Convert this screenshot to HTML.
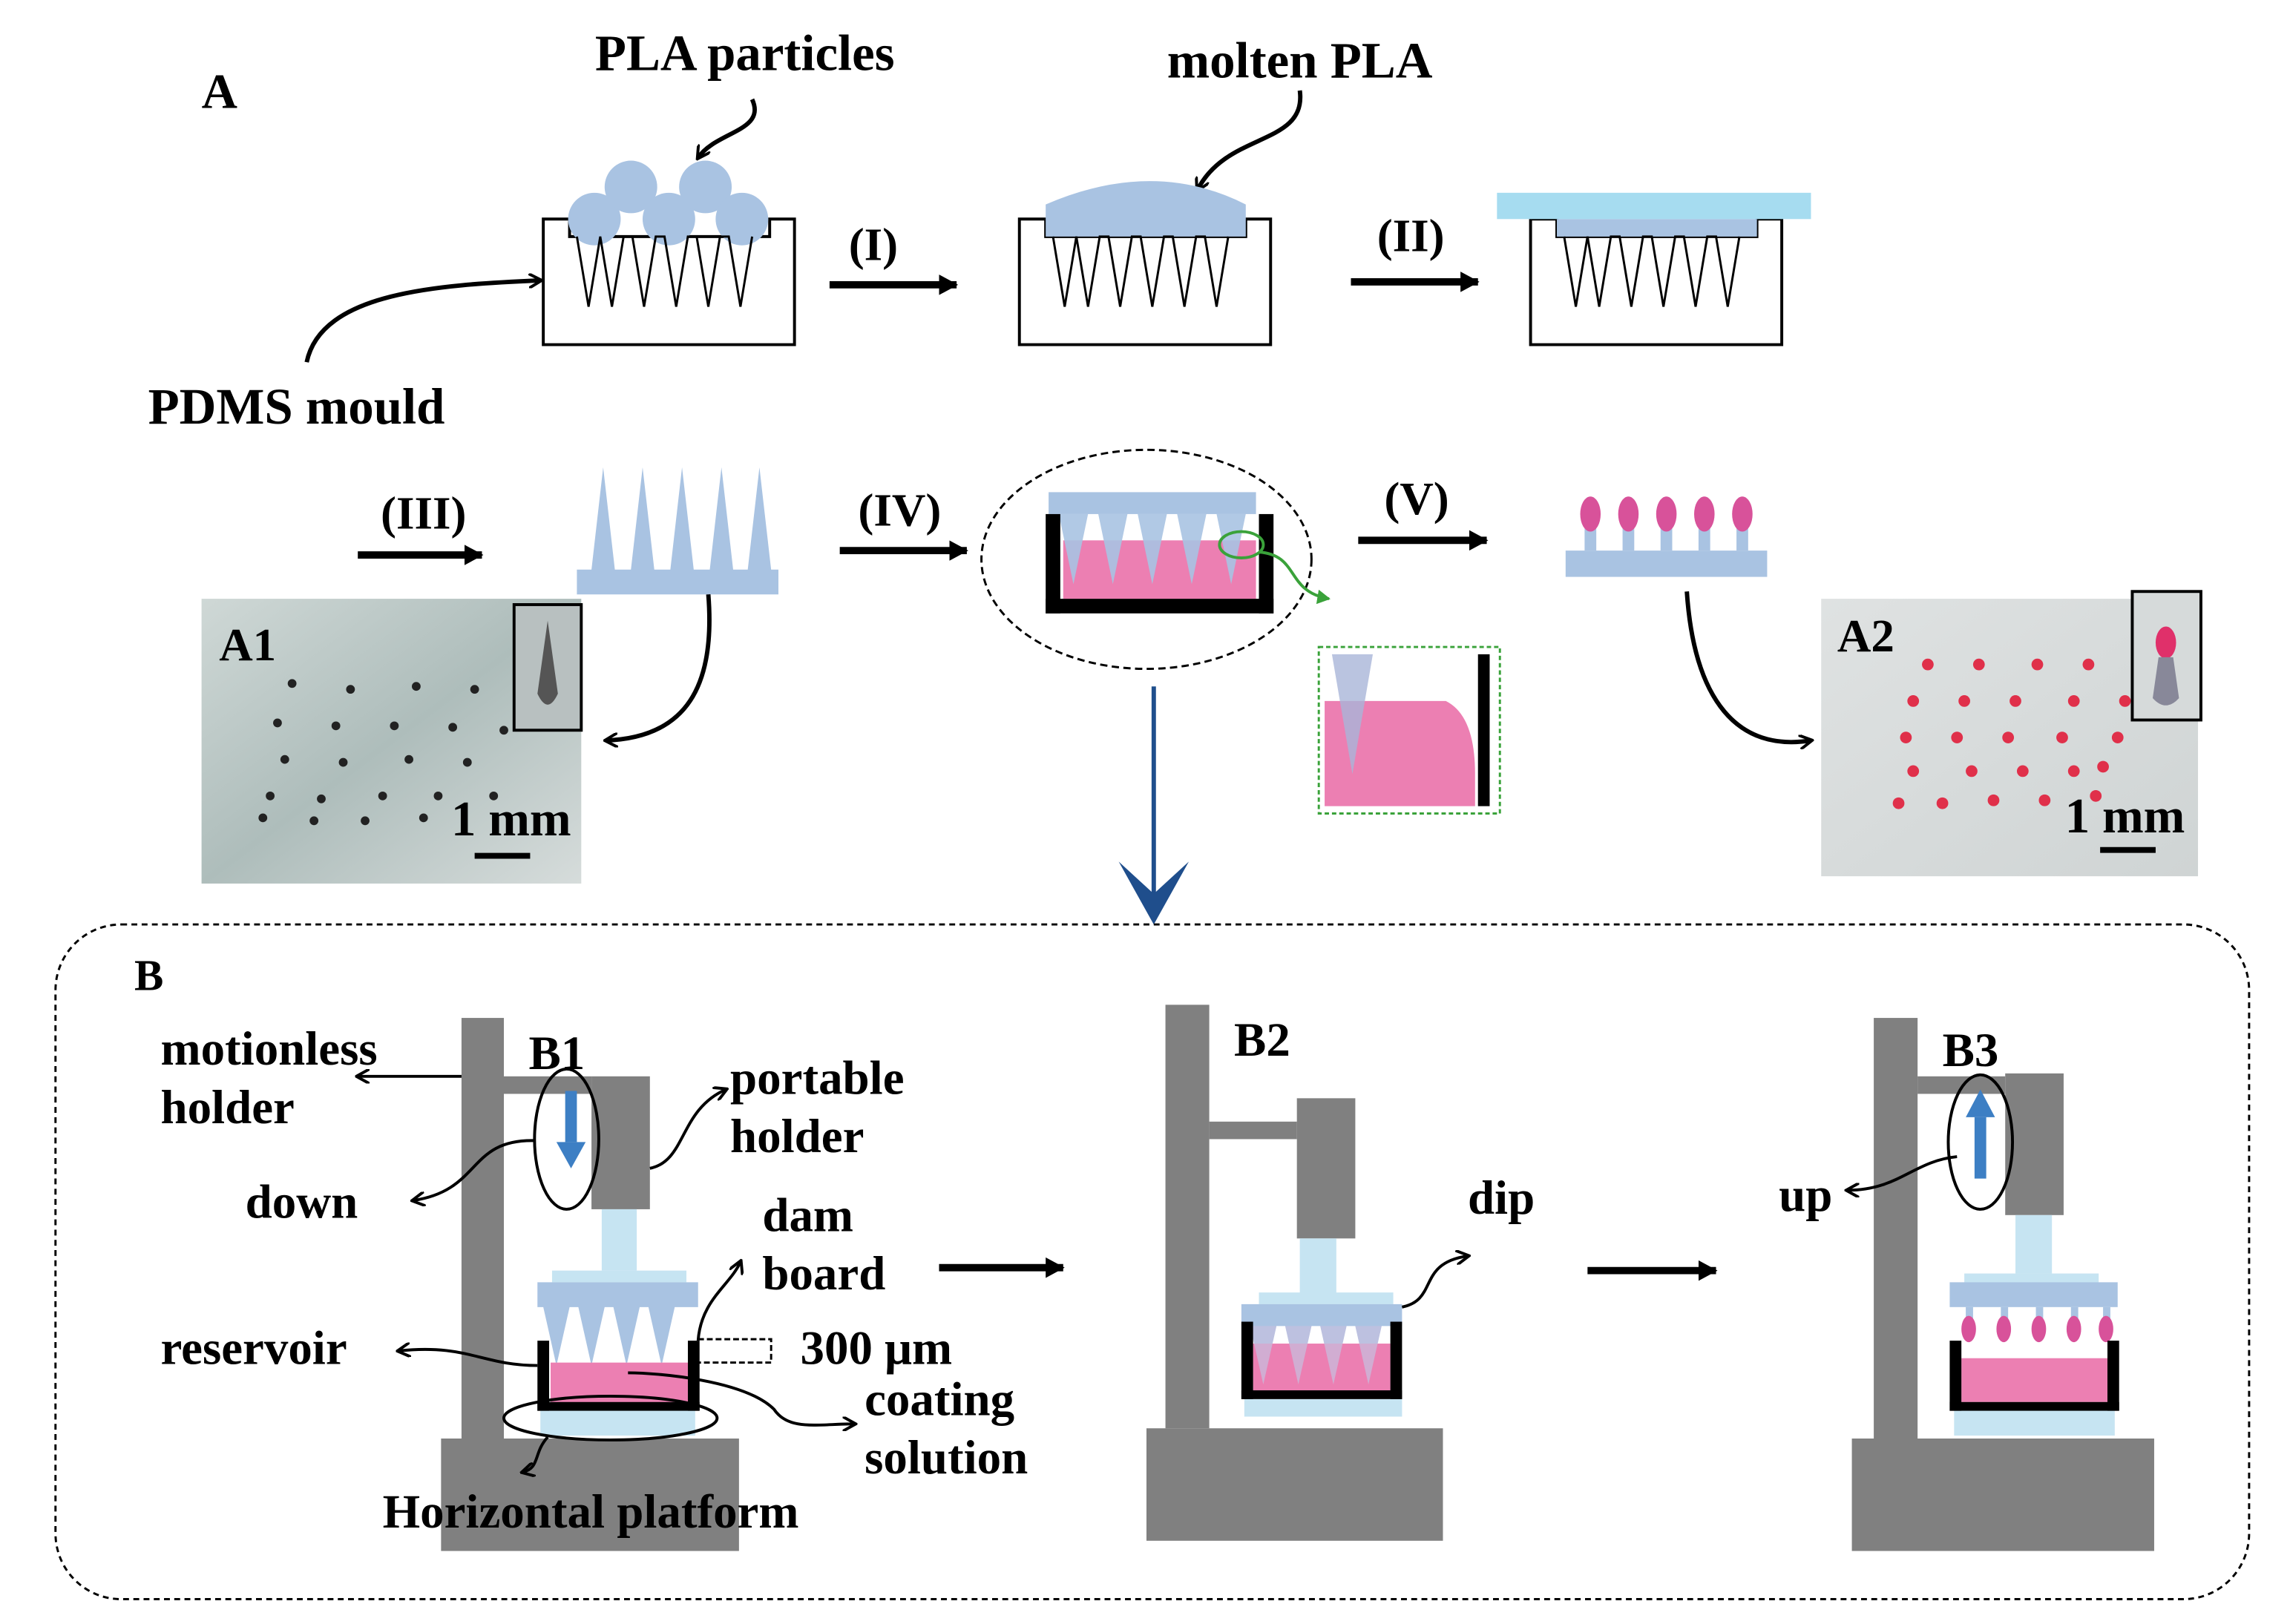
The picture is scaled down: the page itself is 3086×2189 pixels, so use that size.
<!DOCTYPE html>
<html><head><style>html,body{margin:0;padding:0;background:#fff}svg{display:block}</style></head>
<body>
<svg width="3086" height="2189" viewBox="0 0 1568 1112" preserveAspectRatio="none" xmlns="http://www.w3.org/2000/svg" font-family="'Liberation Serif', serif" font-weight="bold">
<defs>
<marker id="ah" markerWidth="10" markerHeight="10" refX="8" refY="5" orient="auto" markerUnits="userSpaceOnUse"><path d="M0,0 L9,5 L0,10" fill="none" stroke="#000" stroke-width="2"/></marker>
<marker id="ahb" markerWidth="14" markerHeight="14" refX="12" refY="7" orient="auto" markerUnits="userSpaceOnUse"><path d="M0,0 L13,7 L0,14 Z" fill="#000"/></marker>
<marker id="ahg" markerWidth="10" markerHeight="10" refX="8" refY="5" orient="auto" markerUnits="userSpaceOnUse"><path d="M0,0 L9,5 L0,10 Z" fill="#3aa23a"/></marker>
<linearGradient id="ph1" x1="0" y1="0" x2="1" y2="1"><stop offset="0" stop-color="#cfd8d6"/><stop offset="0.5" stop-color="#aebdbb"/><stop offset="1" stop-color="#d6dcdb"/></linearGradient>
<linearGradient id="ph2" x1="0" y1="0" x2="1" y2="1"><stop offset="0" stop-color="#dfe2e2"/><stop offset="1" stop-color="#cfd4d4"/></linearGradient>
</defs>
<text x="138" y="74" font-size="34">A</text>
<text x="510" y="48" font-size="35" text-anchor="middle">PLA particles</text>
<text x="890" y="53" font-size="35" text-anchor="middle">molten PLA</text>
<text x="203" y="290" font-size="35" text-anchor="middle">PDMS mould</text>
<path d="M515,68 C525,90 490,90 478,108" fill="none" stroke="#000" stroke-width="3" marker-end="url(#ah)"/>
<path d="M890,62 C895,100 840,90 820,130" fill="none" stroke="#000" stroke-width="3" marker-end="url(#ah)"/>
<path d="M210,248 C220,200 300,195 370,192" fill="none" stroke="#000" stroke-width="3" marker-end="url(#ah)"/>
<g fill="#fff" stroke="#000" stroke-width="2">
<path d="M372,150 L372,236 L544,236 L544,150 L527,150 L527,162 L390,162 L390,150 Z"/>
<path d="M698,150 L698,236 L870,236 L870,150 L853,150 L853,162 L716,162 L716,150 Z"/>
<path d="M1048,150 L1048,236 L1220,236 L1220,150 L1203,150 L1203,162 L1066,162 L1066,150 Z"/>
</g>
<g fill="#a9c3e2"><circle cx="407" cy="150" r="18"/><circle cx="432" cy="128" r="18"/><circle cx="458" cy="150" r="18"/><circle cx="483" cy="128" r="18"/><circle cx="508" cy="150" r="18"/>
<path d="M716,162 L716,140 Q790,108 853,140 L853,162 Z"/>
<rect x="1066" y="150" width="137" height="12"/></g>
<rect x="1025" y="132" width="215" height="18" fill="#a6dcf0"/>
<g fill="none" stroke="#000" stroke-width="1.5">
<path d="M395,162 L403,210 L411,162 L419,210 L427,162 L433,162 L441,210 L449,162 L455,162 L463,210 L471,162 L477,162 L485,210 L493,162 L499,162 L507,210 L515,162"/>
<path d="M721,162 L729,210 L737,162 L745,210 L753,162 L759,162 L767,210 L775,162 L781,162 L789,210 L797,162 L803,162 L811,210 L819,162 L825,162 L833,210 L841,162"/>
<path d="M1071,162 L1079,210 L1087,162 L1095,210 L1103,162 L1109,162 L1117,210 L1125,162 L1131,162 L1139,210 L1147,162 L1153,162 L1161,210 L1169,162 L1175,162 L1183,210 L1191,162"/>
</g>
<g stroke="#000" stroke-width="5" marker-end="url(#ahb)">
<line x1="568" y1="195" x2="655" y2="195"/><line x1="925" y1="193" x2="1012" y2="193"/>
<line x1="245" y1="380" x2="330" y2="380"/><line x1="575" y1="377" x2="662" y2="377"/><line x1="930" y1="370" x2="1018" y2="370"/>
<line x1="643" y1="868" x2="728" y2="868"/><line x1="1087" y1="870" x2="1175" y2="870"/>
</g>
<g font-size="32"><text x="598" y="178" text-anchor="middle">(I)</text><text x="966" y="172" text-anchor="middle">(II)</text>
<text x="290" y="362" text-anchor="middle">(III)</text><text x="616" y="360" text-anchor="middle">(IV)</text><text x="970" y="352" text-anchor="middle">(V)</text></g>
<path d="M395,390 L533,390 L533,407 L395,407 Z M405,390 L413,320 L421,390 Z M432,390 L440,320 L448,390 Z M459,390 L467,320 L475,390 Z M486,390 L494,320 L502,390 Z M512,390 L520,320 L528,390 Z" fill="#a9c3e2"/>
<path d="M485,407 C490,470 470,505 415,507" fill="none" stroke="#000" stroke-width="3" marker-end="url(#ah)"/>
<rect x="138" y="410" width="260" height="195" fill="url(#ph1)"/>
<g fill="#222">
<circle cx="200" cy="468" r="3"/><circle cx="240" cy="472" r="3"/><circle cx="285" cy="470" r="3"/><circle cx="325" cy="472" r="3"/>
<circle cx="190" cy="495" r="3"/><circle cx="230" cy="497" r="3"/><circle cx="270" cy="497" r="3"/><circle cx="310" cy="498" r="3"/><circle cx="345" cy="500" r="3"/>
<circle cx="195" cy="520" r="3"/><circle cx="235" cy="522" r="3"/><circle cx="280" cy="520" r="3"/><circle cx="320" cy="522" r="3"/>
<circle cx="185" cy="545" r="3"/><circle cx="220" cy="547" r="3"/><circle cx="262" cy="545" r="3"/><circle cx="300" cy="545" r="3"/><circle cx="338" cy="545" r="3"/>
<circle cx="180" cy="560" r="3"/><circle cx="215" cy="562" r="3"/><circle cx="250" cy="562" r="3"/><circle cx="290" cy="560" r="3"/></g>
<rect x="352" y="414" width="46" height="86" fill="#b8c0c0" stroke="#000" stroke-width="2"/>
<path d="M375,425 L368,475 Q375,490 382,475 Z" fill="#555"/>
<text x="150" y="452" font-size="32">A1</text>
<text x="350" y="572" font-size="34" text-anchor="middle">1 mm</text>
<rect x="325" y="584" width="38" height="4" fill="#000"/>
<ellipse cx="785" cy="383" rx="113" ry="75" fill="none" stroke="#000" stroke-width="1.5" stroke-dasharray="5,3"/>
<rect x="718" y="337" width="142" height="15" fill="#a9c3e2"/>
<rect x="728" y="370" width="132" height="40" fill="#ec7fb2"/>
<path d="M725,352 L745,352 L735,400 Z M752,352 L772,352 L762,400 Z M779,352 L799,352 L789,400 Z M806,352 L826,352 L816,400 Z M833,352 L853,352 L843,400 Z" fill="#a9c3e2" opacity="0.9"/>
<rect x="716" y="352" width="10" height="68" fill="#000"/><rect x="862" y="352" width="10" height="68" fill="#000"/><rect x="716" y="410" width="156" height="10" fill="#000"/>
<ellipse cx="850" cy="373" rx="15" ry="9" fill="none" stroke="#3aa23a" stroke-width="2"/>
<path d="M862,378 C890,380 880,405 910,410" fill="none" stroke="#3aa23a" stroke-width="2" marker-end="url(#ahg)"/>
<rect x="903" y="443" width="124" height="114" fill="none" stroke="#3aa23a" stroke-width="1.5" stroke-dasharray="3,2"/>
<path d="M907,480 L990,480 Q1010,490 1010,530 L1010,552 L907,552 Z" fill="#ec7fb2"/>
<path d="M912,448 L940,448 L926,530 Z" fill="#a9b5d8" opacity="0.8"/>
<rect x="1012" y="448" width="8" height="104" fill="#000"/>
<rect x="1072" y="377" width="138" height="18" fill="#a9c3e2"/>
<g fill="#a9c3e2"><rect x="1085" y="355" width="8" height="22"/><rect x="1111" y="355" width="8" height="22"/><rect x="1137" y="355" width="8" height="22"/><rect x="1163" y="355" width="8" height="22"/><rect x="1189" y="355" width="8" height="22"/></g>
<g fill="#d8529a"><ellipse cx="1089" cy="352" rx="7" ry="12"/><ellipse cx="1115" cy="352" rx="7" ry="12"/><ellipse cx="1141" cy="352" rx="7" ry="12"/><ellipse cx="1167" cy="352" rx="7" ry="12"/><ellipse cx="1193" cy="352" rx="7" ry="12"/></g>
<path d="M1155,405 C1160,480 1190,515 1240,507" fill="none" stroke="#000" stroke-width="3" marker-end="url(#ah)"/>
<rect x="1247" y="410" width="258" height="190" fill="url(#ph2)"/>
<g fill="#e0304a">
<circle cx="1320" cy="455" r="4"/><circle cx="1355" cy="455" r="4"/><circle cx="1395" cy="455" r="4"/><circle cx="1430" cy="455" r="4"/>
<circle cx="1310" cy="480" r="4"/><circle cx="1345" cy="480" r="4"/><circle cx="1380" cy="480" r="4"/><circle cx="1420" cy="480" r="4"/><circle cx="1455" cy="480" r="4"/>
<circle cx="1305" cy="505" r="4"/><circle cx="1340" cy="505" r="4"/><circle cx="1375" cy="505" r="4"/><circle cx="1412" cy="505" r="4"/><circle cx="1450" cy="505" r="4"/>
<circle cx="1310" cy="528" r="4"/><circle cx="1350" cy="528" r="4"/><circle cx="1385" cy="528" r="4"/><circle cx="1420" cy="528" r="4"/><circle cx="1440" cy="525" r="4"/>
<circle cx="1300" cy="550" r="4"/><circle cx="1330" cy="550" r="4"/><circle cx="1365" cy="548" r="4"/><circle cx="1400" cy="548" r="4"/><circle cx="1435" cy="545" r="4"/></g>
<rect x="1460" y="405" width="47" height="88" fill="#d6dada" stroke="#000" stroke-width="2"/>
<ellipse cx="1483" cy="440" rx="7" ry="11" fill="#e0306a"/><path d="M1478,450 L1474,478 Q1483,488 1492,478 L1488,450 Z" fill="#889"/>
<text x="1258" y="446" font-size="32">A2</text>
<text x="1455" y="570" font-size="34" text-anchor="middle">1 mm</text>
<rect x="1438" y="580" width="38" height="4" fill="#000"/>
<line x1="790" y1="470" x2="790" y2="628" stroke="#1f4e8c" stroke-width="3"/>
<path d="M766,590 L790,633 L814,590 L790,612 Z" fill="#1f4e8c"/>
<rect x="38" y="633" width="1502" height="462" rx="45" fill="none" stroke="#000" stroke-width="1.5" stroke-dasharray="4,3"/>
<text x="92" y="678" font-size="30">B</text>
<g fill="#808080">
<rect x="316" y="697" width="29" height="290"/><rect x="345" y="737" width="60" height="12"/><rect x="405" y="737" width="40" height="91"/><rect x="302" y="985" width="204" height="77"/>
<rect x="798" y="688" width="30" height="290"/><rect x="828" y="768" width="60" height="12"/><rect x="888" y="752" width="40" height="96"/><rect x="785" y="978" width="203" height="77"/>
<rect x="1283" y="697" width="30" height="290"/><rect x="1313" y="737" width="60" height="12"/><rect x="1373" y="735" width="40" height="97"/><rect x="1268" y="985" width="207" height="77"/>
</g>
<g fill="#c6e4f2">
<rect x="412" y="828" width="24" height="42"/><rect x="890" y="848" width="25" height="40"/><rect x="1380" y="832" width="25" height="40"/>
<rect x="370" y="965" width="106" height="18"/><rect x="852" y="958" width="108" height="12"/><rect x="1338" y="965" width="110" height="18"/>
<rect x="378" y="870" width="92" height="8"/><rect x="862" y="885" width="92" height="8"/><rect x="1345" y="872" width="92" height="8"/>
</g>
<path d="M368,878 L478,878 L478,895 L368,895 Z M372,895 L390,895 L381,935 Z M396,895 L414,895 L405,935 Z M420,895 L438,895 L429,935 Z M444,895 L462,895 L453,935 Z" fill="#a9c3e2"/>
<rect x="377" y="933" width="94" height="28" fill="#ec7fb2"/>
<rect x="368" y="918" width="8" height="48" fill="#000"/><rect x="471" y="918" width="8" height="48" fill="#000"/><rect x="368" y="960" width="111" height="6" fill="#000"/>
<path d="M850,893 L960,893 L960,908 L850,908 Z M856,908 L874,908 L865,948 Z M880,908 L898,908 L889,948 Z M904,908 L922,908 L913,948 Z M928,908 L946,908 L937,948 Z" fill="#a9c3e2"/>
<rect x="858" y="920" width="94" height="32" fill="#ec7fb2"/>
<path d="M856,908 L874,908 L865,948 Z M880,908 L898,908 L889,948 Z M904,908 L922,908 L913,948 Z M928,908 L946,908 L937,948 Z" fill="#c6c0e0" opacity="0.7"/>
<rect x="850" y="905" width="8" height="53" fill="#000"/><rect x="952" y="905" width="8" height="53" fill="#000"/><rect x="850" y="952" width="110" height="6" fill="#000"/>
<rect x="1335" y="878" width="115" height="17" fill="#a9c3e2"/>
<g fill="#a9c3e2"><rect x="1346" y="895" width="5" height="12"/><rect x="1370" y="895" width="5" height="12"/><rect x="1394" y="895" width="5" height="12"/><rect x="1418" y="895" width="5" height="12"/><rect x="1440" y="895" width="5" height="12"/></g>
<g fill="#d8529a"><ellipse cx="1348" cy="910" rx="5" ry="9"/><ellipse cx="1372" cy="910" rx="5" ry="9"/><ellipse cx="1396" cy="910" rx="5" ry="9"/><ellipse cx="1420" cy="910" rx="5" ry="9"/><ellipse cx="1442" cy="910" rx="5" ry="9"/></g>
<rect x="1343" y="930" width="100" height="30" fill="#ec7fb2"/>
<rect x="1335" y="918" width="8" height="48" fill="#000"/><rect x="1443" y="918" width="8" height="48" fill="#000"/><rect x="1335" y="960" width="116" height="6" fill="#000"/>
<ellipse cx="388" cy="780" rx="22" ry="48" fill="none" stroke="#000" stroke-width="2"/>
<rect x="387" y="747" width="8" height="35" fill="#3d7fc4"/><path d="M381,782 L401,782 L391,800 Z" fill="#3d7fc4"/>
<ellipse cx="1356" cy="782" rx="22" ry="46" fill="none" stroke="#000" stroke-width="2"/>
<rect x="1352" y="765" width="8" height="42" fill="#3d7fc4"/><path d="M1346,765 L1366,765 L1356,746 Z" fill="#3d7fc4"/>
<ellipse cx="418" cy="971" rx="73" ry="15" fill="none" stroke="#000" stroke-width="2"/>
<rect x="478" y="917" width="50" height="16" fill="none" stroke="#000" stroke-width="1.5" stroke-dasharray="4,2"/>
<g font-size="33">
<text x="362" y="732">B1</text><text x="845" y="723">B2</text><text x="1330" y="730">B3</text>
<text x="110" y="729">motionless</text><text x="110" y="769">holder</text>
<text x="500" y="749">portable</text><text x="500" y="789">holder</text>
<text x="168" y="834">down</text>
<text x="522" y="843">dam</text><text x="522" y="883">board</text>
<text x="110" y="934">reservoir</text>
<text x="548" y="934">300  μm</text>
<text x="592" y="969">coating</text><text x="592" y="1009">solution</text>
<text x="262" y="1046">Horizontal platform</text>
<text x="1005" y="831">dip</text><text x="1218" y="829">up</text>
</g>
<g fill="none" stroke="#000" stroke-width="2" marker-end="url(#ah)">
<line x1="316" y1="737" x2="245" y2="737"/>
<path d="M445,800 C470,795 465,760 497,746"/>
<path d="M366,781 C320,780 330,815 283,822"/>
<path d="M478,918 C480,890 500,880 507,864"/>
<path d="M368,935 C330,935 320,920 273,925"/>
<path d="M430,940 C450,940 510,945 530,965 C540,980 560,975 585,975"/>
<path d="M375,984 C365,995 370,1005 358,1008"/>
<path d="M960,895 C985,890 970,865 1005,860"/>
<path d="M1340,792 C1310,795 1300,815 1265,815"/>
</g>
</svg>
</body></html>
